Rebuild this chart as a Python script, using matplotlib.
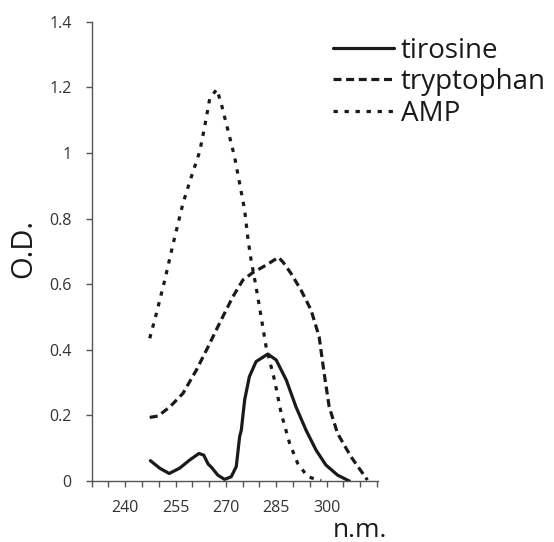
import matplotlib
matplotlib.use('Agg')
import matplotlib.pyplot as plt

# values
tirosine_x = [247.5, 250.3, 253.1, 256.2, 259.2, 262.0, 263.4, 264.7, 265.7, 267.6, 269.6,
              271.6, 273.1, 274.1, 274.6, 275.6, 277.0, 279.0, 282.5, 285.0, 288.0,
              290.9, 293.9, 296.9, 299.8, 303.3, 306.8]
tirosine_y = [0.062, 0.039, 0.023, 0.039, 0.064, 0.084, 0.079, 0.052, 0.042, 0.018, 0.005,
              0.013, 0.044, 0.135, 0.155, 0.247, 0.318, 0.364, 0.387, 0.369, 0.308,
              0.226, 0.155, 0.094, 0.049, 0.018, 0.0]

tryptophan_x = [247.3, 249.8, 253.3, 257.2, 261.2, 264.7, 268.6, 272.1, 275.1, 278.0, 282.0,
                285.7, 287.2, 289.4, 292.4, 295.4, 297.8, 299.3, 300.8, 303.3, 307.3, 312.2]
tryptophan_y = [0.194, 0.198, 0.226, 0.267, 0.338, 0.409, 0.491, 0.562, 0.613, 0.635, 0.658,
                0.682, 0.665, 0.633, 0.582, 0.521, 0.440, 0.328, 0.226, 0.145, 0.074, 0.003]

amp_x = [247.3, 249.3, 251.8, 254.3, 257.2, 259.7, 262.2, 263.7, 265.2, 267.3, 268.6, 270.6,
         272.6, 274.1, 275.6, 276.5, 277.5, 279.0, 280.5, 282.0, 284.5, 286.5, 289.0,
         291.4, 294.4, 298.4]
amp_y = [0.435, 0.511, 0.613, 0.724, 0.846, 0.927, 1.004, 1.081, 1.166, 1.194, 1.151, 1.070,
         0.988, 0.907, 0.826, 0.745, 0.674, 0.592, 0.501, 0.409, 0.308, 0.206, 0.115,
         0.054, 0.013, 0.001]

x_ticks = list(range(230, 316, 5))
x_labels = ['240', '255', '270', '285', '300']
y_ticks = [0, 0.2, 0.4, 0.6, 0.8, 1, 1.2, 1.4]
y_labels = ['0', '0.2', '0.4', '0.6', '0.8', '1', '1.2', '1.4']

plt.rcParams['font.family'] = ['Open Sans', 'DejaVu Sans']
INK = '#1a1a1a'

fig = plt.figure(figsize=(5.54, 5.42), dpi=100)
ax = fig.add_axes([0.1655, 0.1125, 0.5165, 0.8475])

lw = 2.3
ax.plot(tirosine_x, tirosine_y, color=INK, lw=lw, label='tirosine',
        solid_joinstyle='round', solid_capstyle='round')
ax.plot(tryptophan_x, tryptophan_y, color=INK, lw=lw, linestyle=(0, (2.5, 1.45)),
        label='tryptophan', dash_joinstyle='round')
ax.plot(amp_x, amp_y, color=INK, lw=lw, linestyle=(0, (1.35, 2.1)),
        label='AMP', dash_joinstyle='round')

ax.set_xlim(230, 315.3)
ax.set_ylim(0, 1.4)

ax.set_xticks(x_ticks)
ax.set_xticklabels([str(t) if str(t) in x_labels else '' for t in x_ticks])
ax.set_yticks(y_ticks)
ax.set_yticklabels(y_labels)

for side in ['top', 'right']:
    ax.spines[side].set_visible(False)
for side in ['left', 'bottom']:
    ax.spines[side].set_color('#555555')
    ax.spines[side].set_linewidth(1.0)

ax.tick_params(axis='both', direction='out', length=4.5, width=1.0, color='#555555',
               labelsize=11.5, labelcolor='#333333')
ax.tick_params(axis='y', pad=10)
ax.tick_params(axis='x', pad=9)

fig.text(0.042, 0.542, 'O.D.', rotation=90, fontsize=21, color=INK, ha='center', va='center')
fig.text(0.649, 0.022, 'n.m.', fontsize=19, color=INK, ha='center', va='center')

fig.legend(loc='upper left', bbox_to_anchor=(0.601, 0.932), frameon=False, fontsize=20,
           handlelength=2.2, handletextpad=0.25, labelspacing=0.12, borderpad=0,
           borderaxespad=0, labelcolor=INK)

fig.savefig('out.png', dpi=100)
